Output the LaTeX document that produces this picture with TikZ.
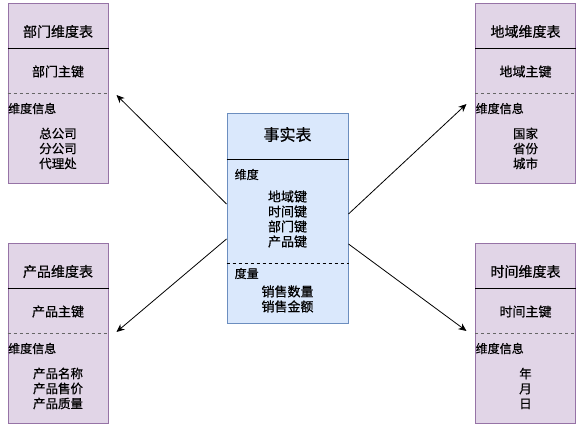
\documentclass[tikz,border=0pt]{standalone}
\usepackage{fontspec}
\newfontfamily\cjk[FakeBold=0.6]{Noto Sans CJK SC}
\usetikzlibrary{arrows.meta,calc}
\definecolor{pfill}{HTML}{E1D5E7}
\definecolor{pdraw}{HTML}{9673A6}
\definecolor{bfill}{HTML}{DAE8FC}
\definecolor{bdraw}{HTML}{6C8EBF}
\definecolor{dgray}{HTML}{666666}
\tikzset{
  dimbox/.style={draw=pdraw, fill=pfill, line width=1pt, minimum width=100pt, minimum height=180pt, inner sep=0pt},
  factbox/.style={draw=bdraw, fill=bfill, line width=1pt, minimum width=121pt, minimum height=210pt, inner sep=0pt},
  sepline/.style={draw=black, line width=1pt},
  pdash/.style={draw=dgray, line width=1pt, dash pattern=on 3pt off 3pt},
  bdash/.style={draw=black, line width=1pt, dash pattern=on 3pt off 3pt},
  hdrtxt/.style={font=\cjk\fontsize{14}{17}\selectfont, inner sep=0pt},
  keytxt/.style={font=\cjk\fontsize{13}{15}\selectfont, inner sep=0pt},
  lbltxt/.style={font=\cjk\fontsize{12}{15}\selectfont, inner sep=0pt, anchor=west},
  bodytxt/.style={font=\cjk\fontsize{12.5}{15}\selectfont, inner sep=0pt, align=center},
  arr/.style={draw=black, line width=0.8pt, -{Stealth[length=8pt,width=7pt,inset=2.5pt]}}
}
\newcommand\dimtbl[6]{%
  \node[dimbox] (#1) at (#2,#3+90) {};
  \draw[sepline] ([yshift=-45pt]#1.north west) -- ([yshift=-45pt]#1.north east);
  \draw[pdash] ([yshift=-90pt]#1.north west) -- ([yshift=-90pt]#1.north east);
  \node[hdrtxt] (#1-t) at ([yshift=-28pt]#1.north) {#4};
  \node[keytxt] (#1-k) at ([yshift=-68pt]#1.north) {#5};
  \node[lbltxt] (#1-l) at ([yshift=-105pt,xshift=0.5pt]#1.north west) {维度信息};
  \node[bodytxt] (#1-b) at ([yshift=-145pt]#1.north) {#6};
}
\begin{document}
\begin{tikzpicture}[x=1pt,y=-1pt]
\useasboundingbox (0,0) rectangle (582,430);
\dimtbl{dept}{58}{4}{部门维度表}{部门主键}{总公司\\分公司\\代理处}
\dimtbl{prod}{58}{244}{产品维度表}{产品主键}{产品名称\\产品售价\\产品质量}
\dimtbl{area}{525.5}{4}{地域维度表}{地域主键}{国家\\省份\\城市}
\dimtbl{time}{525.5}{244}{时间维度表}{时间主键}{年\\月\\日}
% fact table
\node[factbox] (fact) at (287.5,219) {};
\draw[sepline] ([yshift=-46pt]fact.north west) -- ([yshift=-46pt]fact.north east);
\draw[bdash] ([yshift=-150pt]fact.north west) -- ([yshift=-150pt]fact.north east);
\node[font=\cjk\fontsize{16}{19}\selectfont, inner sep=0pt] (fact-t) at ([yshift=-21pt]fact.north) {事实表};
\node[lbltxt] (fact-l1) at ([yshift=-61pt,xshift=8pt]fact.north west) {维度};
\node[bodytxt, font=\cjk\fontsize{13}{15}\selectfont] (fact-k) at ([yshift=-105.5pt]fact.north) {地域键\\时间键\\部门键\\产品键};
\node[lbltxt] (fact-l2) at ([yshift=-160pt,xshift=8pt]fact.north west) {度量};
\node[bodytxt, font=\cjk\fontsize{13}{15}\selectfont] (fact-m) at ([yshift=-185.5pt]fact.north) {销售数量\\销售金额};
% arrow endpoints
\coordinate (f1) at (fact.west |- 0,204);
\coordinate (f2) at (fact.west |- 0,239);
\coordinate (f3) at (fact.east |- 0,214);
\coordinate (f4) at (fact.east |- 0,244);
\coordinate (d1) at ([xshift=8pt]dept.east |- 0,95);
\coordinate (d2) at ([xshift=8pt]prod.east |- 0,332);
\coordinate (d3) at ([xshift=-8.5pt]area.west |- 0,104);
\coordinate (d4) at ([xshift=-8.5pt]time.west |- 0,331);
\draw[arr] (f1) -- (d1);
\draw[arr] (f2) -- (d2);
\draw[arr] (f3) -- (d3);
\draw[arr] (f4) -- (d4);
\end{tikzpicture}
\end{document}
